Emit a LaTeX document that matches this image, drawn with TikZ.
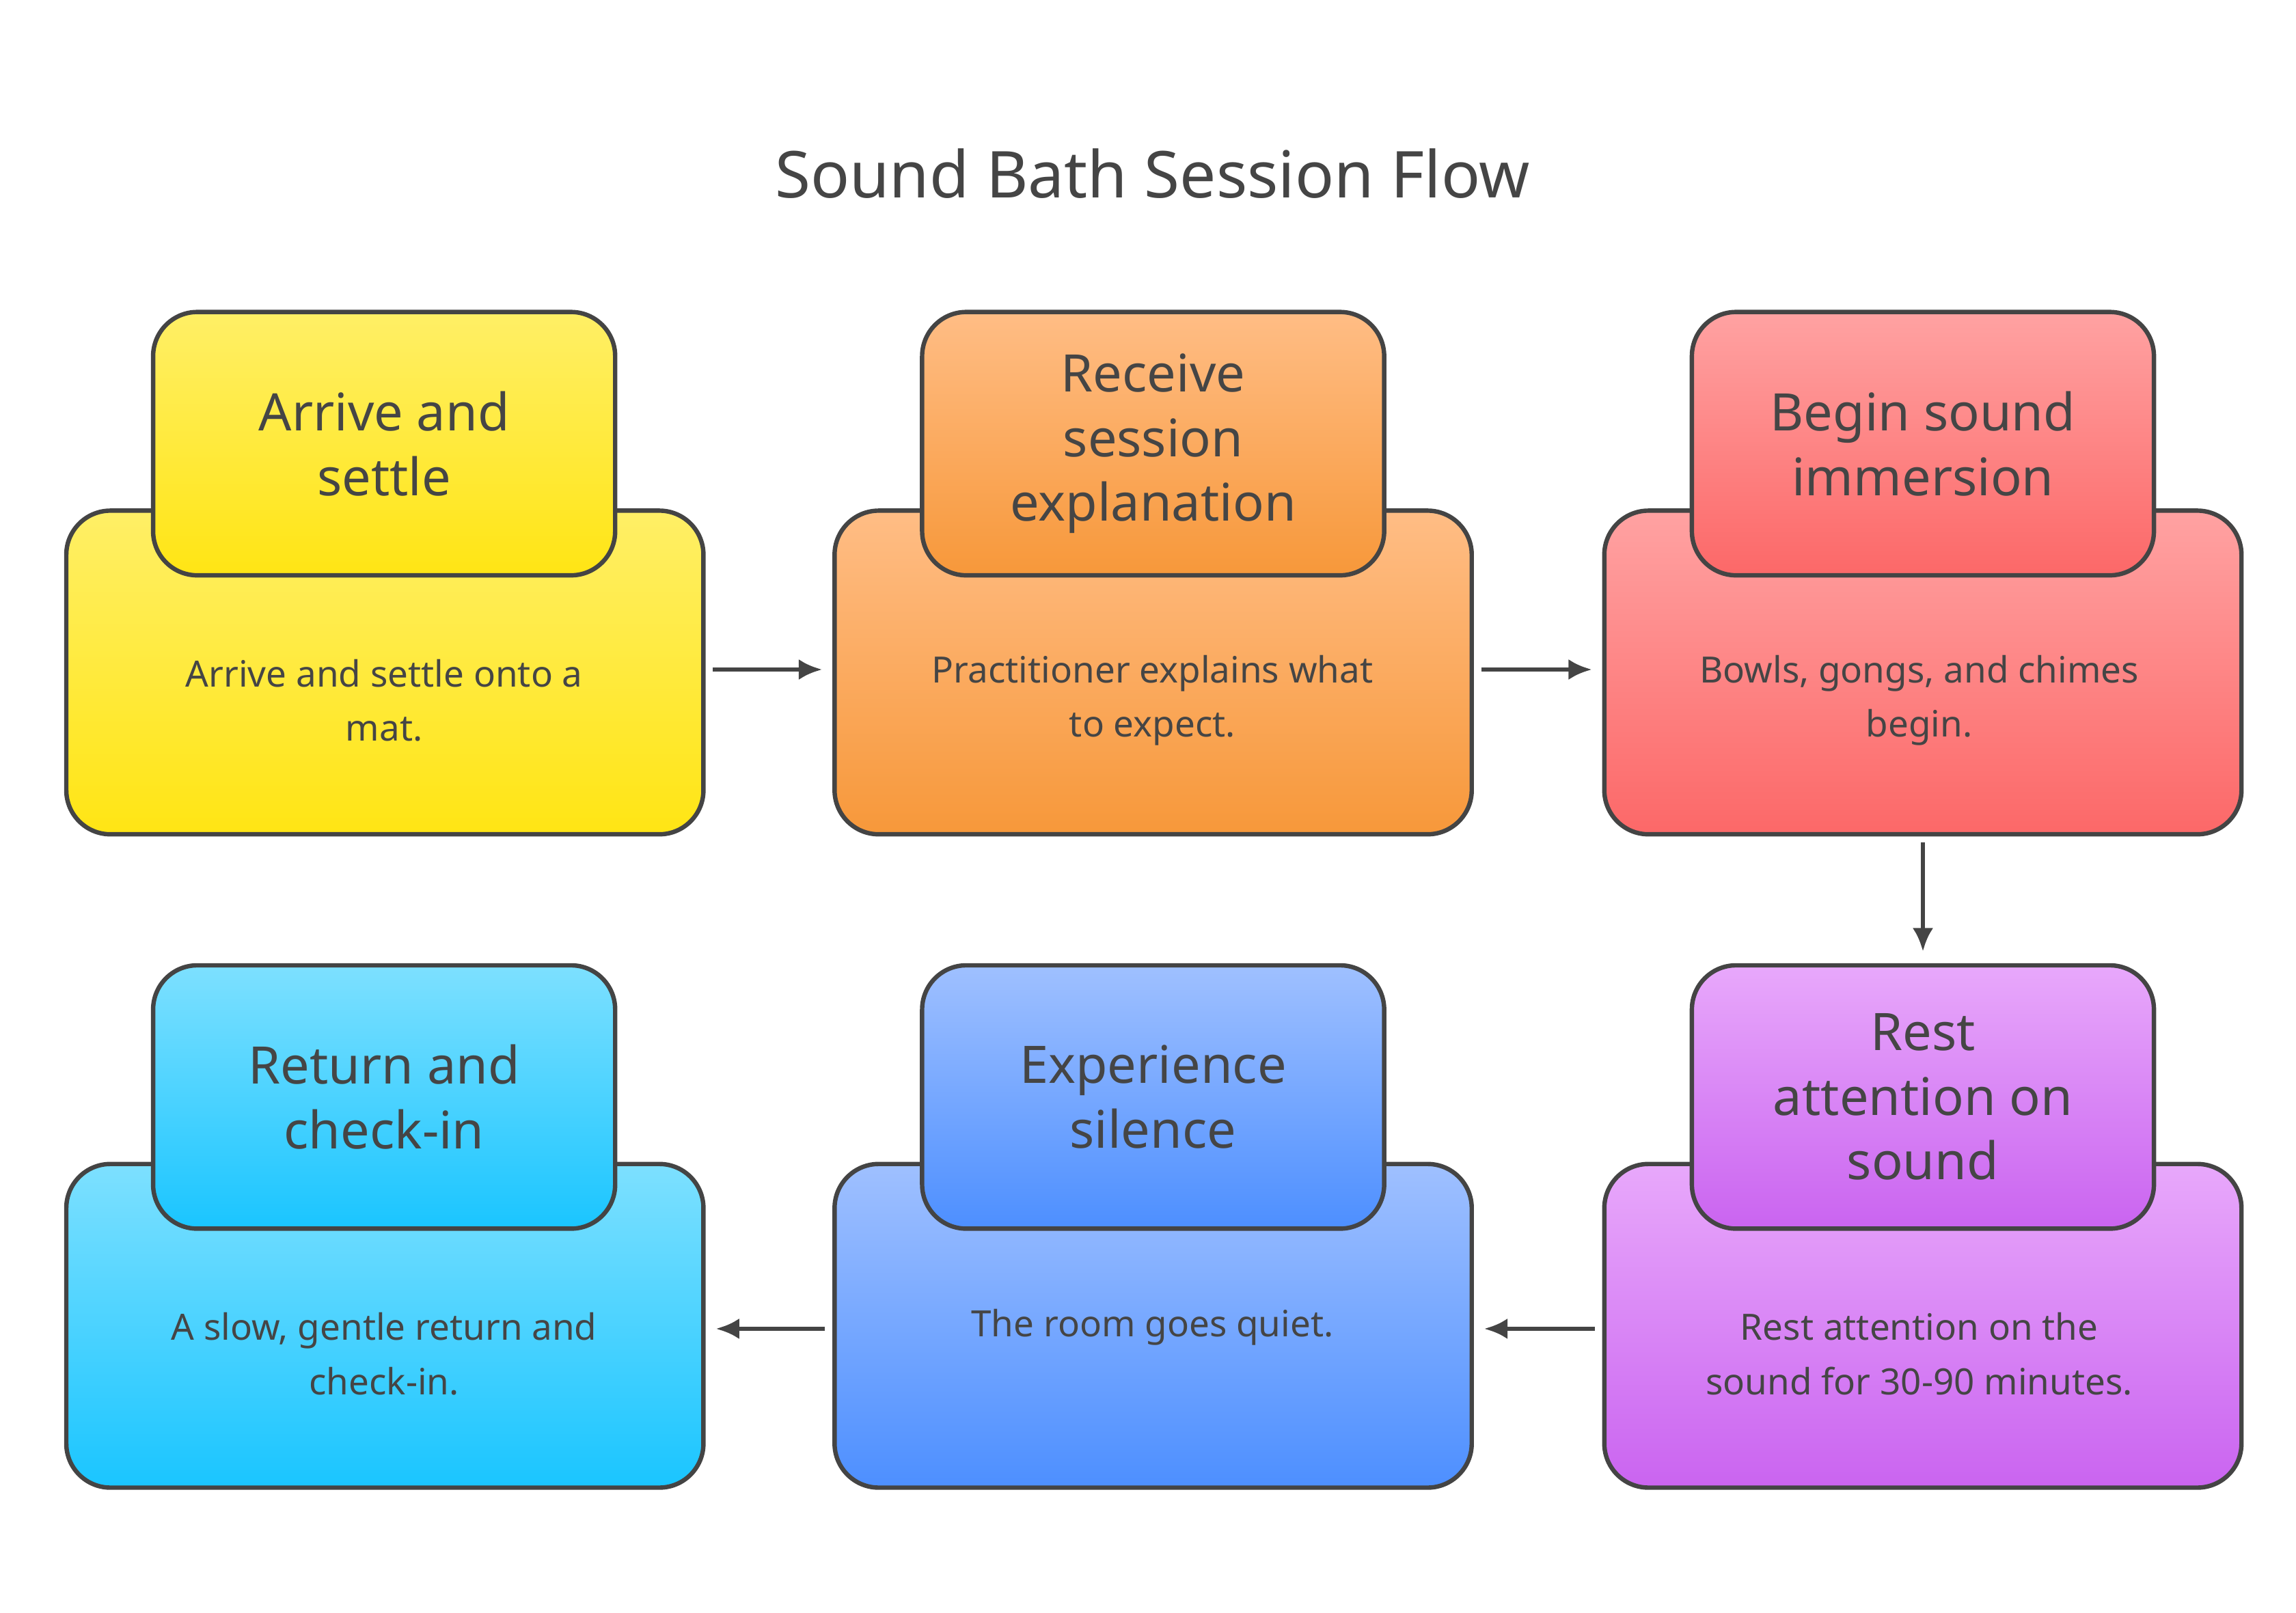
\documentclass[tikz,border=0pt]{standalone}
\usepackage{fontspec}
\setmainfont{Noto Sans}
\usetikzlibrary{arrows.meta}
\definecolor{ink}{HTML}{444444}
\definecolor{txt}{HTML}{454545}
\tikzset{
  basebox/.style={draw=ink,line width=1.7pt,rounded corners=0.6cm,minimum width=8.66cm,minimum height=4.4cm,inner sep=0pt},
  capbox/.style={draw=ink,line width=1.7pt,rounded corners=0.6cm,minimum width=6.28cm,minimum height=3.58cm,inner sep=0pt},
  headtxt/.style={text=txt,font=\fontsize{20}{25}\selectfont,align=center},
  bodytxt/.style={text=txt,font=\fontsize{14}{21}\selectfont,align=center},
  conn/.style={draw=ink,line width=1.7pt,-{Latex[length=9pt,width=8pt]}},
  yel/.style={top color=yellow1,bottom color=yellow2},
  ora/.style={top color=orange1,bottom color=orange2},
  redd/.style={top color=red1,bottom color=red2},
  pur/.style={top color=purple1,bottom color=purple2},
  blu/.style={top color=blue1,bottom color=blue2},
  cya/.style={top color=cyan1,bottom color=cyan2},
}
\definecolor{yellow1}{HTML}{FFEF66}\definecolor{yellow2}{HTML}{FFE514}
\definecolor{orange1}{HTML}{FFBD85}\definecolor{orange2}{HTML}{F7983A}
\definecolor{red1}{HTML}{FFA2A2}\definecolor{red2}{HTML}{FC6868}
\definecolor{purple1}{HTML}{E8A8FB}\definecolor{purple2}{HTML}{CA64F0}
\definecolor{blue1}{HTML}{9FC0FF}\definecolor{blue2}{HTML}{4D8FFF}
\definecolor{cyan1}{HTML}{7DE0FF}\definecolor{cyan2}{HTML}{1AC5FF}
\begin{document}
\begin{tikzpicture}[x=0.02cm,y=-0.02cm]
\useasboundingbox (0,0) rectangle (1560,1096);
\node[text=txt,font=\fontsize{25}{30}\selectfont\bfseries] (title) at (783,118) {Sound Bath Session Flow};
% row 1
\node[basebox,yel] (b1) at (261.5,457) {};
\node[capbox,yel] (c1) at (261,301.5) {};
\node[headtxt] (h1) at (c1) {Arrive and\\settle};
\node[bodytxt] (t1) at (261,476) {Arrive and settle onto a\\mat.};
\node[basebox,ora] (b2) at (783.5,457) {};
\node[capbox,ora] (c2) at (783.5,301.5) {};
\node[headtxt] (h2) at (c2) {Receive\\session\\explanation};
\node[bodytxt] (t2) at (783,476) {Practitioner explains what\\to expect.};
\node[basebox,redd] (b3) at (1306.5,457) {};
\node[capbox,redd] (c3) at (1306.5,301.5) {};
\node[headtxt] (h3) at (c3) {Begin sound\\immersion};
\node[bodytxt] (t3) at (1304,476) {Bowls, gongs, and chimes\\begin.};
% row 2
\node[basebox,pur] (b4) at (1306.5,901) {};
\node[capbox,pur] (c4) at (1306.5,745.5) {};
\node[headtxt] (h4) at (c4) {Rest\\attention on\\sound};
\node[bodytxt] (t4) at (1304,920) {Rest attention on the\\sound for 30-90 minutes.};
\node[basebox,blu] (b5) at (783.5,901) {};
\node[capbox,blu] (c5) at (783.5,745.5) {};
\node[headtxt] (h5) at (c5) {Experience\\silence};
\node[bodytxt] (t5) at (783,902) {The room goes quiet.};
\node[basebox,cya] (b6) at (261.5,901) {};
\node[capbox,cya] (c6) at (261,745.5) {};
\node[headtxt] (h6) at (c6) {Return and\\check-in};
\node[bodytxt] (t6) at (261,920) {A slow, gentle return and\\check-in.};
% connectors
\draw[conn] ([xshift=0.1cm,yshift=0.04cm]b1.east) -- ([xshift=-0.14cm,yshift=0.04cm]b2.west);
\draw[conn] ([xshift=0.1cm,yshift=0.04cm]b2.east) -- ([xshift=-0.14cm,yshift=0.04cm]b3.west);
\draw[conn] ([yshift=-0.08cm]b3.south) -- ([yshift=0.16cm]c4.north);
\draw[conn] ([xshift=-0.1cm,yshift=-0.04cm]b4.west) -- ([xshift=0.14cm,yshift=-0.04cm]b5.east);
\draw[conn] ([xshift=-0.1cm,yshift=-0.04cm]b5.west) -- ([xshift=0.14cm,yshift=-0.04cm]b6.east);
\end{tikzpicture}
\end{document}
